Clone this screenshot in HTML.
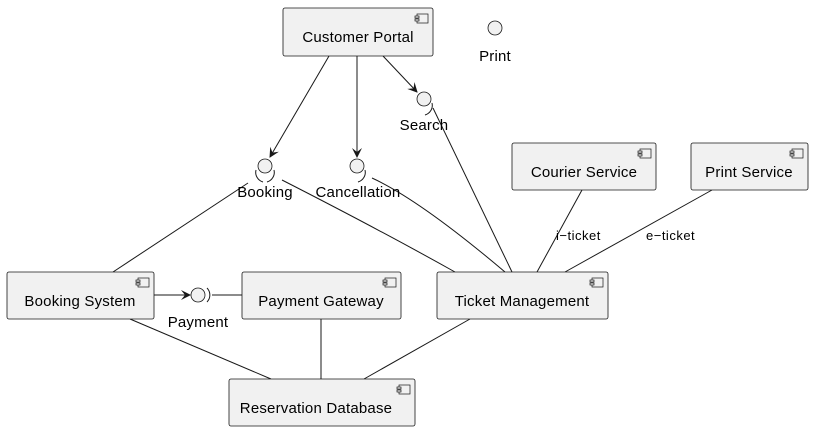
<!DOCTYPE html>
<html><head><meta charset="utf-8"><style>
body{margin:0;background:#fff}
svg{display:block}
text{font-family:"Liberation Sans",sans-serif;fill:#000}
.b{fill:#f1f1f1;stroke:#181818;stroke-width:.8}
.l{stroke:#181818;stroke-width:1;fill:none}
.c{fill:#f1f1f1;stroke:#181818;stroke-width:.8}
</style></head><body>
<svg width="819" height="431" viewBox="0 0 819 431">
<defs>
<marker id="a" markerWidth="10" markerHeight="10" refX="9" refY="5" orient="auto" markerUnits="userSpaceOnUse">
<path d="M0,0 L10,5 L0,10 L4,5 Z" fill="#181818"/></marker>
<g id="ic"><rect x="0" y="0" width="11" height="9" fill="#f1f1f1" stroke="#181818" stroke-width=".7"/><rect x="-2" y="2" width="4" height="2" fill="#f1f1f1" stroke="#181818" stroke-width=".7"/><rect x="-2" y="5" width="4" height="2" fill="#f1f1f1" stroke="#181818" stroke-width=".7"/></g>
</defs>
<path class="l" d="M329,56 L270,157" marker-end="url(#a)"/>
<path class="l" d="M357,56 L357,157" marker-end="url(#a)"/>
<path class="l" d="M383,56 L417,92" marker-end="url(#a)"/>
<path class="l" d="M248,183 L113,272"/>
<path class="l" d="M282,180 Q380,230 455,272"/>
<path class="l" d="M372,178 Q420,200 505,272"/>
<path class="l" d="M433,108 L512,272"/>
<path class="l" d="M582,190 L537,272"/>
<path class="l" d="M712,190 L565,272"/>
<path class="l" d="M154,295 L190,295" marker-end="url(#a)"/>
<path class="l" d="M212,295 L242,295"/>
<path class="l" d="M130,319 L271,379"/>
<path class="l" d="M321,319 L321,379"/>
<path class="l" d="M470,319 L364,379"/>
<path class="l" d="M256,170 A10,10 0 0 0 263,182"/>
<path class="l" d="M274,170 A10,10 0 0 1 267,182"/>
<path class="l" d="M365,170 A10,10 0 0 1 358,182"/>
<path class="l" d="M432,103 A10,10 0 0 1 425,115"/>
<path class="l" d="M207,288 A10,10 0 0 1 207,302"/>
<circle class="c" cx="495" cy="28" r="7"/>
<circle class="c" cx="424" cy="99" r="7"/>
<circle class="c" cx="265" cy="166" r="7"/>
<circle class="c" cx="357" cy="166" r="7"/>
<circle class="c" cx="198" cy="295" r="7"/>
<rect class="b" x="283" y="8" width="150" height="48" rx="2"/><use href="#ic" x="417" y="14"/>
<rect class="b" x="512" y="143" width="144" height="47" rx="2"/><use href="#ic" x="640" y="149"/>
<rect class="b" x="691" y="143" width="117" height="47" rx="2"/><use href="#ic" x="792" y="149"/>
<rect class="b" x="7" y="272" width="147" height="47" rx="2"/><use href="#ic" x="138" y="278"/>
<rect class="b" x="242" y="272" width="159" height="47" rx="2"/><use href="#ic" x="385" y="278"/>
<rect class="b" x="437" y="272" width="171" height="47" rx="2"/><use href="#ic" x="592" y="278"/>
<rect class="b" x="229" y="379" width="186" height="47" rx="2"/><use href="#ic" x="399" y="385"/>
<g font-size="15" letter-spacing="0.2">
<text x="358" y="42" text-anchor="middle">Customer Portal</text>
<text x="584" y="177" text-anchor="middle">Courier Service</text>
<text x="749" y="177" text-anchor="middle">Print Service</text>
<text x="80" y="306" text-anchor="middle">Booking System</text>
<text x="321" y="306" text-anchor="middle">Payment Gateway</text>
<text x="522" y="306" text-anchor="middle">Ticket Management</text>
<text x="316" y="413" text-anchor="middle">Reservation Database</text>
<text x="495" y="61" text-anchor="middle">Print</text>
<text x="424" y="130" text-anchor="middle">Search</text>
<text x="265" y="197" text-anchor="middle">Booking</text>
<text x="358" y="197" text-anchor="middle">Cancellation</text>
<text x="198" y="327" text-anchor="middle">Payment</text>
</g>
<g font-size="13" letter-spacing="0.5">
<text x="556" y="240">i−ticket</text>
<text x="646" y="240">e−ticket</text>
</g>
</svg>
</body></html>
